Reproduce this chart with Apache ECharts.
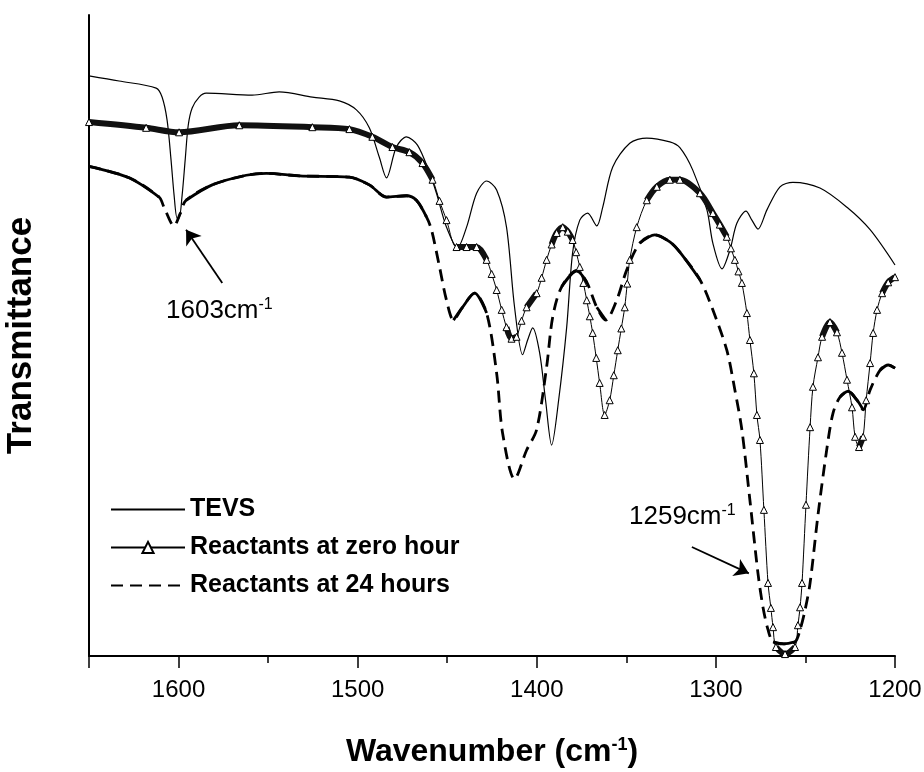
<!DOCTYPE html>
<html>
<head>
<meta charset="utf-8">
<title>FTIR spectra</title>
<script src="https://cdn.jsdelivr.net/npm/echarts@6/dist/echarts.min.js"></script>
<style>
  html, body { margin: 0; padding: 0; background: #fff; }
  #chart { width: 924px; height: 772px; }
</style>
</head>
<body>
<div id="chart"></div>
<script>
// wavenumber (cm-1), transmittance (arbitrary units, 0-100)
var tevs = [
  [1650, 90.5], [1633.2, 89.7], [1612.5, 88.6], [1609.2, 87.2], [1606.4, 83.6], [1604.2, 77.4],
  [1602.5, 71.9], [1600.8, 68.3], [1599.7, 68.3], [1598.0, 71.9], [1596.3, 77.4], [1594.6, 82.8],
  [1592.4, 85.5], [1588.5, 87.2], [1584.6, 87.8], [1558.9, 87.5], [1543.8, 88.0], [1525.3, 87.2],
  [1510.2, 86.6], [1500.7, 85.2], [1493.5, 82.4], [1487.9, 77.8], [1483.9, 74.6], [1478.4, 79.4],
  [1472.8, 81.0], [1466.6, 79.7], [1459.9, 75.4], [1456.0, 72.2], [1450.4, 66.9], [1444.3, 63.7],
  [1439.2, 66.9], [1433.6, 72.2], [1428.0, 74.1], [1422.4, 72.7], [1416.9, 66.9], [1412.4, 54.4],
  [1407.9, 47.0], [1405.1, 49.3], [1402.3, 51.2], [1398.4, 47.3], [1395.1, 39.9], [1391.7, 32.9],
  [1387.8, 39.9], [1383.3, 51.3], [1380.0, 62.9], [1376.0, 68.0], [1371.6, 69.1], [1366.5, 67.1],
  [1363.2, 70.0], [1357.6, 76.3], [1348.1, 80.0], [1338.6, 80.8], [1325.7, 80.2], [1320.1, 79.3],
  [1312.9, 75.8], [1305.0, 69.6], [1301.7, 64.4], [1296.6, 60.4], [1292.2, 63.3], [1288.3, 67.5],
  [1283.2, 69.4], [1279.9, 68.0], [1276.5, 66.6], [1271.5, 69.6], [1264.2, 73.2], [1257.0, 73.9],
  [1241.9, 73.0], [1226.8, 70.0], [1213.9, 66.5], [1200, 61.0]
]
var zeroHour = [
  [1650, 83.3], [1618.1, 82.4], [1599.7, 81.7], [1566.1, 82.8], [1525.3, 82.5], [1504.6, 82.2],
  [1491.8, 81.0], [1480.6, 79.4], [1471.1, 78.6], [1463.8, 76.9], [1458.2, 74.3], [1454.3, 71.0],
  [1450.4, 68.0], [1444.8, 63.8], [1439.2, 63.8], [1433.6, 63.8], [1428.0, 61.8], [1425.2, 59.6],
  [1422.4, 57.1], [1419.6, 54.0], [1416.9, 51.3], [1414.1, 49.5], [1411.3, 49.8], [1408.5, 52.3],
  [1405.7, 54.4], [1400.1, 56.6], [1397.3, 59.0], [1394.5, 61.8], [1391.7, 64.2], [1388.9, 66.0],
  [1385.5, 66.9], [1382.7, 66.2], [1380.0, 64.9], [1378.0, 63.0], [1376.0, 60.7], [1374.0, 58.2],
  [1372.1, 55.5], [1370.4, 53.0], [1368.8, 50.4], [1366.8, 46.5], [1364.9, 42.6], [1362.1, 37.6],
  [1359.3, 39.9], [1357.0, 43.8], [1354.8, 47.7], [1352.8, 51.1], [1350.9, 54.4], [1349.5, 58.1],
  [1348.1, 61.8], [1344.2, 66.9], [1338.6, 71.1], [1333.0, 73.2], [1325.7, 74.3], [1320.1, 74.3],
  [1308.9, 72.2], [1301.7, 69.1], [1297.8, 67.3], [1293.9, 65.4], [1291.6, 63.6], [1289.4, 61.8],
  [1287.4, 60.0], [1285.5, 58.2], [1282.7, 53.5], [1281.0, 49.3], [1278.8, 44.1], [1277.1, 37.6],
  [1275.4, 33.7], [1273.2, 22.8], [1270.9, 11.4], [1269.3, 7.5], [1268.1, 4.5], [1266.5, 1.4],
  [1261.4, 0.3], [1255.8, 1.4], [1254.2, 4.8], [1253.0, 7.6], [1251.9, 11.4], [1249.7, 23.6],
  [1247.4, 35.7], [1245.8, 42.0], [1243.0, 46.6], [1240.7, 49.8], [1236.3, 52.1], [1232.4, 50.5],
  [1229.6, 47.3], [1226.8, 43.1], [1224.0, 38.8], [1222.3, 34.2], [1220.1, 32.6], [1217.8, 34.2],
  [1216.1, 39.9], [1213.9, 45.7], [1212.2, 50.4], [1210.0, 54.0], [1207.2, 56.6], [1203.8, 58.3],
  [1200, 59.1]
]
var hours24 = [
  [1650, 76.4], [1627.6, 74.6], [1610.9, 71.6], [1608.1, 70.0], [1602.5, 67.1], [1599.1, 69.0],
  [1595.8, 71.1], [1581.2, 73.5], [1562.2, 75.0], [1551.0, 75.3], [1532.6, 74.9], [1504.6, 74.7],
  [1493.5, 73.5], [1483.9, 71.6], [1472.8, 71.8], [1467.2, 71.1], [1461.6, 68.5], [1458.8, 66.5],
  [1454.3, 60.7], [1450.4, 55.5], [1446.5, 52.4], [1441.5, 54.4], [1434.7, 56.6], [1428.0, 53.5],
  [1422.4, 44.1], [1419.1, 34.8], [1412.4, 27.6], [1405.7, 32.1], [1400.1, 35.3], [1394.5, 45.1],
  [1391.1, 52.9], [1386.1, 57.6], [1377.7, 60.1], [1372.1, 58.3], [1366.5, 54.4], [1361.5, 52.4],
  [1355.4, 55.5], [1349.8, 60.2], [1342.5, 64.4], [1334.1, 65.7], [1325.7, 64.6], [1320.1, 63.0],
  [1308.9, 58.7], [1301.7, 54.0], [1293.9, 47.7], [1289.4, 41.5], [1285.5, 35.3], [1281.0, 24.3],
  [1276.5, 12.9], [1273.7, 7.6], [1270.9, 4.1], [1268.1, 2.2], [1262.0, 1.9], [1255.8, 2.2],
  [1253.0, 4.1], [1250.2, 7.2], [1247.4, 11.4], [1243.0, 22.0], [1237.9, 32.6], [1234.6, 37.9],
  [1230.7, 40.4], [1226.2, 41.3], [1221.2, 39.9], [1217.8, 38.4], [1213.9, 41.5], [1208.3, 44.6],
  [1203.8, 45.4], [1200, 44.9]
]
// arrows for the two peak labels: [from, to]
var arrow1603 = [[1575.6, 58.2], [1595.8, 66.5]]
var arrow1259 = [[1313.4, 17.0], [1281.6, 12.9]]

var font = "'Liberation Sans', Arial, Helvetica, sans-serif"
var noMarker = { color: 'rgba(0,0,0,0)', borderWidth: 0 }

// keep only the gently sloping segments (where the original plot's dense points merge)
function flatParts(data, limit) {
  var out = []
  for (var i = 0; i < data.length - 1; i++) {
    var a = data[i], b = data[i + 1]
    var slope = Math.abs((b[1] - a[1]) / (b[0] - a[0]))
    if (slope < limit) {
      if (out.length === 0 || out[out.length - 1] !== a) out.push(a)
      out.push(b)
    } else if (out.length && out[out.length - 1] !== '-') {
      out.push('-')
    }
  }
  return out
}

var chart = echarts.init(document.getElementById('chart'))
chart.setOption({
  animation: false,
  backgroundColor: '#fff',
  grid: { left: 89, right: 29, top: 15, bottom: 116, containLabel: false, outerBoundsMode: 'none' },
  legend: {
    data: [
      { name: 'TEVS', itemStyle: noMarker },
      { name: 'Reactants at zero hour' },
      { name: 'Reactants at 24 hours', itemStyle: noMarker }
    ],
    orient: 'vertical',
    left: 110,
    top: 497,
    padding: 0,
    itemWidth: 74,
    itemHeight: 14,
    itemGap: 13,
    selectedMode: false,
    textStyle: { fontFamily: font, fontSize: 25, fontWeight: 'bold', color: '#000' }
  },
  xAxis: {
    type: 'value',
    min: 1200,
    max: 1650,
    interval: 100,
    inverse: true,
    name: '{a|Wavenumber (cm}{s|-1}{a|)}',
    nameLocation: 'middle',
    nameGap: 80,
    nameTextStyle: {
      rich: {
        a: { fontFamily: font, fontSize: 32, fontWeight: 'bold', color: '#000' },
        s: { fontFamily: font, fontSize: 18, fontWeight: 'bold', color: '#000', padding: [0, 0, 14, 0] }
      }
    },
    axisLine: { lineStyle: { color: '#000', width: 2 } },
    axisTick: { length: 12, lineStyle: { color: '#000', width: 1.5 } },
    minorTick: { show: true, splitNumber: 2, length: 7, lineStyle: { color: '#000', width: 1.5 } },
    axisLabel: {
      fontFamily: font, fontSize: 24, color: '#000', margin: 22, showMaxLabel: false,
      formatter: function (v) { return String(v) }
    },
    splitLine: { show: false }
  },
  yAxis: {
    type: 'value',
    min: 0,
    max: 100,
    name: 'Transmittance',
    nameLocation: 'middle',
    nameGap: 50,
    nameTextStyle: { fontFamily: font, fontSize: 35, fontWeight: 'bold', color: '#000' },
    axisLine: { show: true, lineStyle: { color: '#000', width: 2 } },
    axisTick: { show: false },
    axisLabel: { show: false },
    splitLine: { show: false }
  },
  graphic: [
    {
      type: 'text', left: 166, top: 297,
      style: {
        text: '{a|1603cm}{b|-1}',
        rich: {
          a: { fontFamily: font, fontSize: 26, fill: '#000' },
          b: { fontFamily: font, fontSize: 16, fill: '#000', padding: [0, 0, 12, 0] }
        }
      }
    },
    {
      type: 'text', left: 629, top: 503,
      style: {
        text: '{a|1259cm}{b|-1}',
        rich: {
          a: { fontFamily: font, fontSize: 26, fill: '#000' },
          b: { fontFamily: font, fontSize: 16, fill: '#000', padding: [0, 0, 12, 0] }
        }
      }
    }
  ],
  series: [
    {
      name: 'TEVS',
      type: 'line',
      data: tevs,
      smooth: 0.3,
      symbol: 'none',
      lineStyle: { color: '#000', width: 1.2 },
      itemStyle: { color: '#000' },
      markLine: {
        silent: true,
        symbol: ['none', 'arrow'],
        symbolSize: 14,
        label: { show: false },
        lineStyle: { color: '#000', width: 1.8, type: 'solid' },
        data: [
          [{ coord: arrow1603[0] }, { coord: arrow1603[1] }],
          [{ coord: arrow1259[0] }, { coord: arrow1259[1] }]
        ]
      }
    },
    {
      name: 'Reactants at zero hour',
      type: 'line',
      data: zeroHour,
      smooth: 0.3,
      symbol: 'triangle',
      symbolSize: 7,
      showAllSymbol: true,
      lineStyle: { color: '#000', width: 1 },
      itemStyle: { color: '#fff', borderColor: '#000', borderWidth: 1 }
    },
    {
      name: 'zeroBand',
      type: 'line',
      data: flatParts(zeroHour, 0.7),
      smooth: 0.3,
      symbol: 'none',
      connectNulls: false,
      z: 3,
      lineStyle: { color: '#111', width: 6 }
    },
    {
      name: 'Reactants at 24 hours',
      type: 'line',
      data: hours24,
      smooth: 0.3,
      symbol: 'none',
      lineStyle: { color: '#000', width: 2.8, type: [12, 7] },
      itemStyle: { color: '#000' }
    },
    {
      name: 'solid24',
      type: 'line',
      data: flatParts(hours24, 0.5),
      smooth: 0.3,
      symbol: 'none',
      connectNulls: false,
      lineStyle: { color: '#000', width: 2.8 }
    }
  ]
})
</script>
</body>
</html>
